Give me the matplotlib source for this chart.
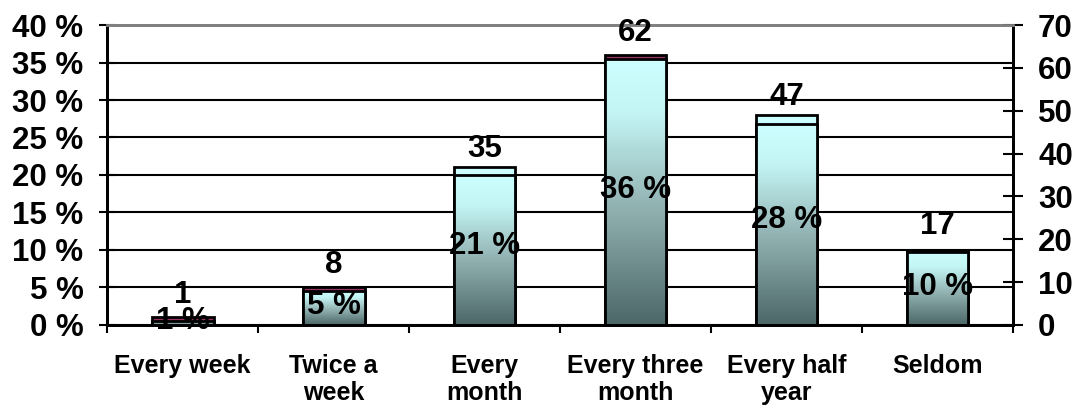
import numpy as np
import matplotlib.pyplot as plt
from matplotlib.colors import LinearSegmentedColormap
from matplotlib.patches import Rectangle

categories = ["Every week", "Twice a\nweek", "Every\nmonth", "Every three\nmonth",
              "Every half\nyear", "Seldom"]
counts = [1, 8, 35, 62, 47, 17]
percents = [1, 5, 21, 36, 28, 10]
back_colors = ["#993366", "#993366", "#ccffff", "#993366", "#ccffff", "#ccffff"]
pct_ticks = [0, 5, 10, 15, 20, 25, 30, 35, 40]
count_ticks = [0, 10, 20, 30, 40, 50, 60, 70]

plt.rcParams['font.family'] = ['Liberation Sans', 'DejaVu Sans']
plt.rcParams['font.weight'] = 'bold'

fig = plt.figure(figsize=(10.77, 4.12), dpi=100)
ax = fig.add_axes([0.0994, 0.2112, 0.8412, 0.7281])
ax2 = ax.twinx()

x = np.arange(len(categories))
w = 0.41

# percentage series (back)
ax.bar(x, percents, width=w, color=back_colors, edgecolor="black", linewidth=2, zorder=2)

# count series (front) with vertical gradient fill
grad_cmap = LinearSegmentedColormap.from_list(
    "teal", [(0.0, "#4c6767"), (0.45, "#93b3b3"), (0.8, "#c4f5f5"), (1.0, "#ccffff")])
grad = np.linspace(0, 1, 256).reshape(-1, 1)
for xi, c in zip(x, counts):
    rect = Rectangle((xi - w / 2, 0), w, c, facecolor="none", edgecolor="black",
                     linewidth=2, zorder=3)
    ax2.add_patch(rect)
    im = ax2.imshow(grad, extent=(xi - w / 2, xi + w / 2, 0, c), origin="lower",
                    cmap=grad_cmap, aspect="auto", zorder=2.5)
    im.set_clip_path(rect)

ax.set_xlim(-0.5, 5.5)
ax.set_ylim(0, 40)
ax2.set_xlim(-0.5, 5.5)
ax2.set_ylim(0, 70)

# grid
ax.set_axisbelow(True)
ax.yaxis.grid(True, color="black", linewidth=1.5, zorder=0)

# y axes
ax.set_yticks(pct_ticks)
ax.set_yticklabels([f"{v} %" for v in pct_ticks])
ax.tick_params(axis="y", direction="inout", length=12, width=1.5, pad=11, labelsize=22.5)
ax2.set_yticks(count_ticks)
ax2.tick_params(axis="y", direction="inout", length=14, width=1.5, pad=11, labelsize=22.5)

# x axis
ax.set_xticks(x)
ax.set_xticklabels(categories, fontsize=18, linespacing=1.15)
ax.tick_params(axis="x", which="major", length=0, pad=21)
ax.set_xticks(np.arange(-0.5, 6.0, 1.0), minor=True)
ax.tick_params(axis="x", which="minor", direction="out", length=6, width=1.5)

for a in (ax, ax2):
    for s in ("left", "right", "bottom"):
        a.spines[s].set_color("black")
        a.spines[s].set_linewidth(2)
    a.spines["top"].set_color("#808080")
    a.spines["top"].set_linewidth(2)

# value labels
for xi, c, p in zip(x, counts, percents):
    ax2.annotate(str(c), (xi, c), xytext=(0, 8), textcoords="offset points",
                 ha="center", va="bottom", fontsize=22.5, zorder=5)
    ax2.text(xi, p / 2, f"{p} %", transform=ax.transData, ha="center", va="center",
             fontsize=22.5, zorder=5)

fig.savefig("out.png", dpi=100)
